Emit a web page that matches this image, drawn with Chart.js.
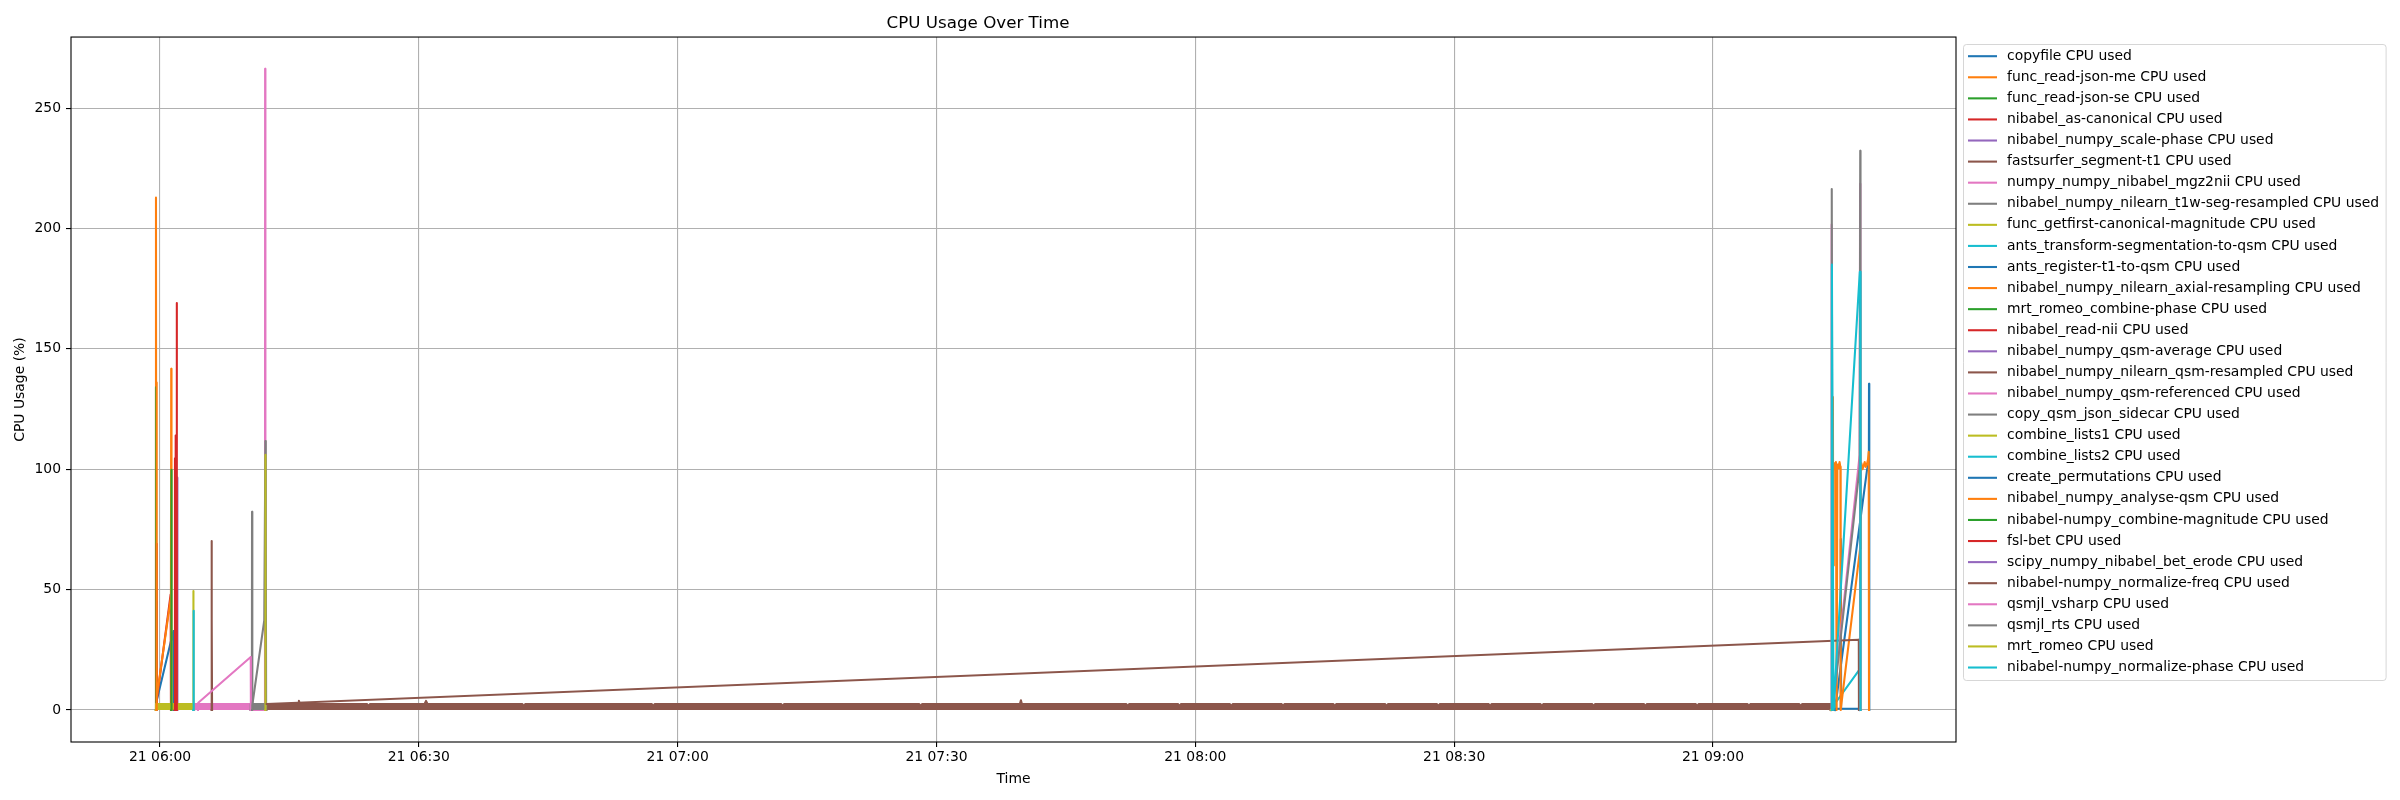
<!DOCTYPE html>
<html><head><meta charset="utf-8">
<script src="https://cdn.jsdelivr.net/npm/chart.js@4.4.1/dist/chart.umd.min.js"></script>
<style>html,body{margin:0;padding:0;background:#fff;}canvas{display:block;}</style>
</head><body>
<canvas id="c" width="2400" height="800"></canvas>
<script>
// ---------------- DATA ----------------
const seriesNames = [
"copyfile CPU used","func_read-json-me CPU used","func_read-json-se CPU used","nibabel_as-canonical CPU used",
"nibabel_numpy_scale-phase CPU used","fastsurfer_segment-t1 CPU used","numpy_numpy_nibabel_mgz2nii CPU used",
"nibabel_numpy_nilearn_t1w-seg-resampled CPU used","func_getfirst-canonical-magnitude CPU used",
"ants_transform-segmentation-to-qsm CPU used","ants_register-t1-to-qsm CPU used",
"nibabel_numpy_nilearn_axial-resampling CPU used","mrt_romeo_combine-phase CPU used","nibabel_read-nii CPU used",
"nibabel_numpy_qsm-average CPU used","nibabel_numpy_nilearn_qsm-resampled CPU used","nibabel_numpy_qsm-referenced CPU used",
"copy_qsm_json_sidecar CPU used","combine_lists1 CPU used","combine_lists2 CPU used","create_permutations CPU used",
"nibabel_numpy_analyse-qsm CPU used","nibabel-numpy_combine-magnitude CPU used","fsl-bet CPU used",
"scipy_numpy_nibabel_bet_erode CPU used","nibabel-numpy_normalize-freq CPU used","qsmjl_vsharp CPU used",
"qsmjl_rts CPU used","mrt_romeo CPU used","nibabel-numpy_normalize-phase CPU used"];

const copyfileT = ["05:59:34","05:59:35","05:59:37","06:01:33","06:01:35"];
const copyfileV = [0,45,3.6,32.8,0];
const readJsonMeT = ["05:59:31","05:59:32","05:59:34"];
const readJsonMeV = [0,212.8,0];
const readJsonSeT = ["05:59:31","05:59:32","05:59:34"];
const readJsonSeV = [0,134,0];
const asCanonicalT = ["05:59:33","05:59:35","05:59:39","06:01:14","06:01:16"];
const asCanonicalV = [0,69,4,48,0];
const scalePhaseT = ["06:01:58","06:01:59","06:02:00","06:02:02"];
const scalePhaseV = [0,96.5,52.7,0];
const fastsurferT = ["06:12:20","06:12:22","06:16:00","06:16:06","06:16:12","06:20:00","06:24:00","06:24:10","06:24:20",
"06:30:40","06:30:50","06:31:00","06:36:00","06:42:00","06:42:10","06:42:20","06:50:00","06:57:00","06:57:10","06:57:20",
"07:05:00","07:12:00","07:12:10","07:12:20","07:20:00","07:28:00","07:28:10","07:28:20","07:39:40","07:39:47","07:39:54",
"07:46:00","07:52:00","07:52:10","07:52:20","07:58:00","07:58:10","07:58:20","08:04:00","08:04:10","08:04:20",
"08:10:00","08:10:10","08:10:20","08:16:00","08:16:10","08:16:20","08:22:00","08:22:10","08:22:20",
"08:28:00","08:28:10","08:28:20","08:34:00","08:34:10","08:34:20","08:40:00","08:40:10","08:40:20",
"08:46:00","08:46:10","08:46:20","08:52:00","08:52:10","08:52:20","08:58:00","08:58:10","08:58:20",
"09:04:00","09:04:10","09:04:20","09:10:00","09:10:10","09:10:20","09:13:38","09:13:39"];
const fastsurferV = [0,2.5,2.5,3.8,2.5,2.5,2.5,1.5,2.5,
2.5,3.8,2.5,2.5,2.5,1.5,2.5,2.5,2.5,1.5,2.5,
2.5,2.5,1.5,2.5,2.5,2.5,1.5,2.5,2.5,4.0,2.5,
2.5,2.5,1.5,2.5,2.5,1.5,2.5,2.5,1.5,2.5,
2.5,1.5,2.5,2.5,1.5,2.5,2.5,1.5,2.5,
2.5,1.5,2.5,2.5,1.5,2.5,2.5,1.5,2.5,
2.5,1.5,2.5,2.5,1.5,2.5,2.5,1.5,2.5,
2.5,1.5,2.5,2.5,1.5,2.5,2.5,0];
const mgz2niiT = ["06:03:58","06:03:59","06:07:00","06:10:26","06:10:27","06:12:10","06:12:11","06:12:12","06:12:14"];
const mgz2niiV = [0,2.5,2.5,2.5,0,0,266.3,130,0];
const t1wSegT = ["06:10:30","06:10:31","06:10:39","06:10:40","06:10:42","06:12:16","06:12:17"];
const t1wSegV = [0,2.5,2.5,82.3,2.5,2.5,0];
const getfirstT = ["05:59:31","05:59:32","06:01:00","06:03:47","06:03:50","06:03:52","06:03:53"];
const getfirstV = [0,2.5,2.5,2.5,2.5,49.4,0];
const antsTransformT = ["06:03:51","06:03:53","06:03:54","06:03:56"];
const antsTransformV = [0,41.2,22.8,0];
const antsRegisterT = ["09:14:08","09:17:52","09:18:04","09:18:05","09:18:07"];
const antsRegisterV = [0,100,103,135.5,0];
const axialResT = ["05:59:34","05:59:35","05:59:36","05:59:39","06:01:16","06:01:18","06:01:20"];
const axialResV = [0,136,107,5,47,141.7,0];
const romeoCombT = ["06:01:18","06:01:19","06:01:21"];
const romeoCombV = [0,99.8,0];
const readNiiT = ["06:01:42","06:01:44","06:01:46","06:01:48","06:01:50","06:01:55","06:01:56","06:01:58"];
const readNiiV = [0,104.5,0,114,0,0,169,0];
const qsmAverageT = ["09:13:40","09:13:44"];
const qsmAverageV = [0,0];
const qsmResampledT = ["06:05:58","06:05:59","06:06:00","06:06:02"];
const qsmResampledV = [0,70.2,38,0];
const qsmReferencedT = ["06:04:24","06:04:26","06:10:31","06:10:32"];
const qsmReferencedV = [0,3,22,0];
const sidecarT = ["06:10:40","06:10:42","06:12:05","06:12:13","06:12:14","06:12:17","06:12:18"];
const sidecarV = [0,2,37.2,111.7,0,79,0];
const lists1T = ["06:12:12","06:12:13","06:12:14"];
const lists1V = [0,106,0];
const lists2T = ["09:14:08","09:14:10","09:16:56","09:16:58"];
const lists2V = [0,2.8,16.6,0];
const permutationsT = ["09:14:10","09:14:12","09:14:47","09:14:49","09:14:51","09:17:02","09:17:04"];
const permutationsV = [0,0.5,0.5,71,0.5,0.5,0];
const analyseT = ["09:13:52","09:13:54","09:13:56","09:14:00","09:14:05","09:14:10","09:14:15","09:14:20","09:14:25",
"09:14:30","09:14:35","09:14:40","09:14:46","09:14:48","09:17:03","09:17:06","09:17:12","09:17:20","09:17:28",
"09:17:35","09:17:42","09:17:50","09:17:58","09:18:03","09:18:05"];
const analyseV = [0,130,60,101,102.5,100,103,0,101,102,100.5,103,101,0,67,101,102.5,100,101.5,103,101,102,104,107.2,0];
const combMagT = ["09:13:40","09:13:44"];
const combMagV = [0,0];
const fslBetT = ["09:13:40","09:13:44"];
const fslBetV = [0,0];
const betErodeT = ["09:13:40","09:13:44"];
const betErodeV = [0,0];
const normFreqT = ["06:12:22","09:16:54","09:16:55"];
const normFreqV = [2.5,29.2,0];
const vsharpT = ["09:13:44","09:13:45","09:13:50","09:17:00","09:17:03","09:17:05"];
const vsharpV = [0,201.6,0,106,218.6,0];
const rtsT = ["09:13:45","09:13:46","09:13:52","09:17:00","09:17:04","09:17:06"];
const rtsV = [0,216.4,0,101,232.3,0];
const romeoT = ["09:13:40","09:13:44"];
const romeoV = [0,0];
const normPhaseT = ["09:13:46","09:13:47","09:13:58","09:17:01","09:17:04","09:17:06"];
const normPhaseV = [0,185,0,182,182,0];

const xTickTimes = ["06:00","06:30","07:00","07:30","08:00","08:30","09:00"];
const xTickLabels = ["21 06:00","21 06:30","21 07:00","21 07:30","21 08:00","21 08:30","21 09:00"];
const yTicks = [0,50,100,150,200,250];

const seriesTimes = [copyfileT,readJsonMeT,readJsonSeT,asCanonicalT,scalePhaseT,fastsurferT,mgz2niiT,t1wSegT,getfirstT,
antsTransformT,antsRegisterT,axialResT,romeoCombT,readNiiT,qsmAverageT,qsmResampledT,qsmReferencedT,sidecarT,lists1T,lists2T,
permutationsT,analyseT,combMagT,fslBetT,betErodeT,normFreqT,vsharpT,rtsT,romeoT,normPhaseT];
const seriesValues = [copyfileV,readJsonMeV,readJsonSeV,asCanonicalV,scalePhaseV,fastsurferV,mgz2niiV,t1wSegV,getfirstV,
antsTransformV,antsRegisterV,axialResV,romeoCombV,readNiiV,qsmAverageV,qsmResampledV,qsmReferencedV,sidecarV,lists1V,lists2V,
permutationsV,analyseV,combMagV,fslBetV,betErodeV,normFreqV,vsharpV,rtsV,romeoV,normPhaseV];

// ---------------- STYLE ----------------
const palette = ["#1f77b4","#ff7f0e","#2ca02c","#d62728","#9467bd","#8c564b","#e377c2","#7f7f7f","#bcbd22","#17becf"];
const filledSeries = [5,6,7,8];
const FONT = "DejaVu Sans";

const toSec = s => { const p = s.split(':').map(Number); return p[0]*3600 + p[1]*60 + (p[2]||0); };

const datasets = seriesNames.map((name,i) => ({
  label: name,
  data: seriesTimes[i].map((t,k) => ({x: toSec(t), y: seriesValues[i][k]})),
  borderColor: palette[i % 10],
  backgroundColor: palette[i % 10],
  borderWidth: 2.08,
  pointRadius: 0,
  tension: 0,
  borderJoinStyle: 'round',
  borderCapStyle: 'square',
  fill: filledSeries.includes(i) ? 'origin' : false,
  order: seriesNames.length - i
}));

const xTickVals = xTickTimes.map(toSec);

const frame = {
  id: 'frame',
  afterDatasetsDraw(chart) {
    const {ctx, chartArea: a} = chart;
    ctx.save();
    ctx.strokeStyle = '#000'; ctx.lineWidth = 1.1;
    ctx.strokeRect(a.left, a.top, a.right - a.left, a.bottom - a.top);
    ctx.restore();
  }
};

const mplLegend = {
  id: 'mplLegend',
  afterDraw(chart) {
    const ctx = chart.ctx;
    const n = chart.data.datasets.length;
    const step = 21.08, y0 = 56.2;
    ctx.save();
    ctx.font = '13.9px "' + FONT + '"';
    let maxW = 0;
    chart.data.datasets.forEach(ds => { maxW = Math.max(maxW, ctx.measureText(ds.label).width); });
    const bx = 1963.5, by = 44.5, bw = (2007 + maxW + 7) - bx, bh = (y0 + (n-1)*step + 13) - by;
    ctx.beginPath();
    ctx.roundRect(bx, by, bw, bh, 3);
    ctx.fillStyle = 'rgba(255,255,255,0.8)'; ctx.fill();
    ctx.strokeStyle = 'rgba(204,204,204,0.8)'; ctx.lineWidth = 1; ctx.stroke();
    chart.data.datasets.forEach((ds,i) => {
      const y = y0 + i*step;
      ctx.strokeStyle = ds.borderColor; ctx.lineWidth = 2.08; ctx.lineCap = 'butt';
      ctx.beginPath(); ctx.moveTo(1968, y); ctx.lineTo(1997, y); ctx.stroke();
      ctx.fillStyle = '#000'; ctx.textBaseline = 'middle'; ctx.textAlign = 'left';
      ctx.fillText(ds.label, 2007, y);
    });
    ctx.restore();
  }
};

Chart.defaults.font.family = FONT;
Chart.defaults.color = '#000';

new Chart(document.getElementById('c'), {
  type: 'line',
  data: { datasets },
  plugins: [frame, mplLegend],
  options: {
    responsive: false,
    animation: false,
    events: [],
    layout: { padding: { left: 0, right: 444, top: 0, bottom: 0 } },
    plugins: {
      legend: { display: false },
      tooltip: { enabled: false },
      title: { display: true, text: 'CPU Usage Over Time', color: '#000',
               font: { family: FONT, size: 16.7, weight: 'normal' }, padding: { top: 13.5, bottom: 3.5 } }
    },
    scales: {
      x: {
        type: 'linear', min: 20981, max: 34090,
        afterBuildTicks: s => { s.ticks = xTickVals.map(v => ({value: v})); },
        afterFit: s => { s.height = 58; },
        ticks: { callback: v => xTickLabels[xTickVals.indexOf(v)], font: { family: FONT, size: 13.9 }, color: '#000', padding: 2, maxRotation: 0, autoSkip: false },
        grid: { color: '#b0b0b0', lineWidth: 1.1, tickColor: '#000', tickWidth: 1.1, tickLength: 5 },
        border: { display: false },
        title: { display: true, text: 'Time', color: '#000', font: { family: FONT, size: 13.9 }, padding: { top: 0, bottom: 12 } }
      },
      y: {
        type: 'linear', min: -13.29, max: 279.5,
        afterBuildTicks: s => { s.ticks = yTicks.map(v => ({value: v})); },
        afterFit: s => { s.width = 71; },
        ticks: { callback: v => String(v), font: { family: FONT, size: 13.9 }, color: '#000', padding: 5 },
        grid: { color: '#b0b0b0', lineWidth: 1.1, tickColor: '#000', tickWidth: 1.1, tickLength: 5 },
        border: { display: false },
        title: { display: true, text: 'CPU Usage (%)', color: '#000', font: { family: FONT, size: 13.9 }, padding: { top: 12.4, bottom: 0 } }
      }
    }
  }
});
</script>
</body></html>
